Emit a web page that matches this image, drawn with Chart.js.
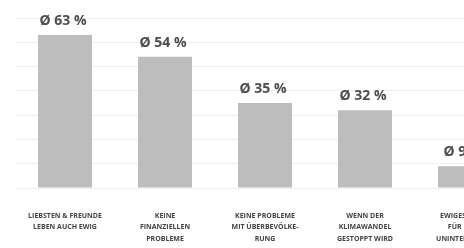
<!DOCTYPE html>
<html>
<head>
<meta charset="utf-8">
<script src="https://cdn.jsdelivr.net/npm/chart.js@4"></script>
<style>
  html, body { margin: 0; padding: 0; background: #fff; overflow: hidden; }
  #wrap { position: relative; width: 530px; height: 248px; }
</style>
</head>
<body>
<div id="wrap"><canvas id="myChart"></canvas></div>
<script>
const categories = [
  ['LIEBSTEN & FREUNDE', 'LEBEN AUCH EWIG'],
  ['KEINE', 'FINANZIELLEN', 'PROBLEME'],
  ['KEINE PROBLEME', 'MIT ÜBERBEVÖLKE-', 'RUNG'],
  ['WENN DER', 'KLIMAWANDEL', 'GESTOPPT WIRD'],
  ['EWIGES LEBEN', 'FÜR MICH', 'UNINTERESSANT']
];
const averages = [63, 54, 35, 32, 9];
const valueLabels = ['Ø 63 %', 'Ø 54 %', 'Ø 35 %', 'Ø 32 %', 'Ø 9 %'];

// draws the "Ø xx %" text above each bar
const valueLabelPlugin = {
  id: 'valueLabels',
  afterDatasetsDraw(chart) {
    const ctx = chart.ctx;
    const meta = chart.getDatasetMeta(0);
    ctx.save();
    ctx.font = 'bold 14px "Open Sans"';
    ctx.fillStyle = '#4d4d4d';
    ctx.textAlign = 'center';
    ctx.textBaseline = 'alphabetic';
    meta.data.forEach((bar, i) => {
      ctx.fillText(valueLabels[i], bar.x - 2, bar.y - 10);
    });
    ctx.restore();
  }
};

let myChart;

function drawGraphic()
{
  const ctx = document.getElementById('myChart').getContext('2d');

  if (myChart) {
    myChart.destroy();
  }

  myChart = new Chart(ctx, {
    type: 'bar',
    data: {
      labels: categories,
      datasets: [{
        data: averages,
        backgroundColor: '#bdbdbd',
        borderWidth: 0,
        barPercentage: 0.54,
        categoryPercentage: 1
      }]
    },
    options: {
      responsive: true,
      maintainAspectRatio: false,
      animation: false,
      layout: { padding: { left: 15, right: 15, top: 18, bottom: 2 } },
      plugins: {
        legend: { display: false },
        tooltip: { enabled: false }
      },
      scales: {
        x: {
          grid: { display: false, drawTicks: false },
          border: { display: false },
          ticks: {
            color: '#444',
            font: { family: 'Open Sans', size: 7, weight: 'bold', lineHeight: 1.65 },
            padding: 22,
            maxRotation: 0,
            autoSkip: false
          },
          afterFit: (scale) => { scale.height = 58; }
        },
        y: {
          min: 0,
          max: 70,
          grid: { color: '#eeeeee', drawTicks: false },
          border: { display: false },
          ticks: { display: false, stepSize: 10 }
        }
      }
    },
    plugins: [valueLabelPlugin]
  });
}

drawGraphic();
</script>
</body>
</html>
